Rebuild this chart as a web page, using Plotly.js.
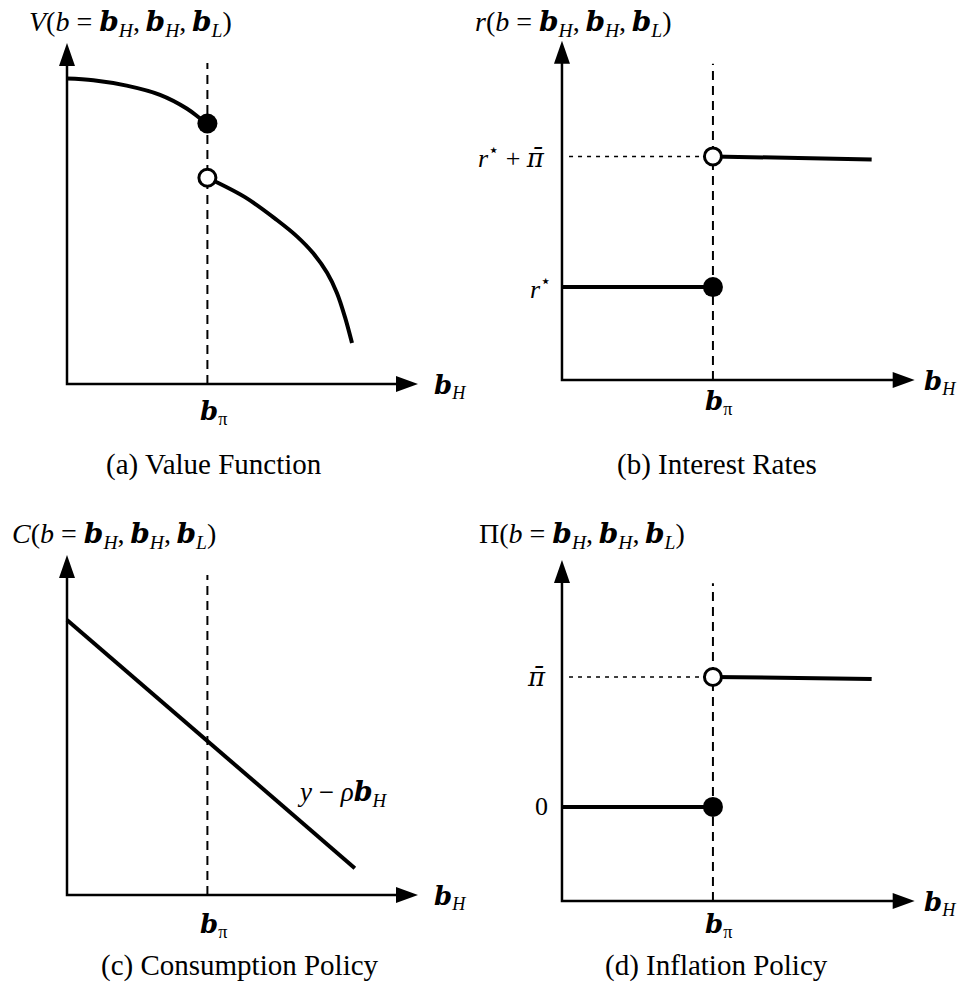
<!DOCTYPE html>
<html>
<head>
<meta charset="utf-8">
<script src="https://cdn.plot.ly/plotly-3.0.1.min.js"></script>
<style>
  html, body { margin: 0; padding: 0; background: #fff; }
  #chart { width: 957px; height: 984px; }
</style>
</head>
<body>
<div id="chart"></div>
<script>
// ---- data (axis units: origin = 0, arrow tip = 10) ----
const bPiLeft = 4.0;          // panels (a), (c)
const bPiRight = 4.28;        // panels (b), (d)
const guideTopLeft = 9.41;
const guideTopRight = 9.32;

// (a) value function, two branches
const valueHiX = [0, 0.75, 1.70, 2.65, 3.41, 3.79, 4.0];
const valueHiY = [8.96, 8.91, 8.75, 8.48, 8.08, 7.79, 7.64];
const valueLoX = [4.0, 5.07, 5.98, 6.55, 7.01, 7.41, 7.69, 7.92, 8.12];
const valueLoY = [6.05, 5.48, 4.81, 4.33, 3.84, 3.26, 2.67, 1.96, 1.20];

// (b) interest rates
const rateLowX = [0, 4.28];
const rateLowY = [2.74, 2.74];
const rateHighX = [4.28, 8.78];
const rateHighY = [6.59, 6.50];

// (c) consumption policy y - rho*b_H
const consX = [0, 8.2];
const consY = [8.09, 0.79];

// (d) inflation policy
const inflLowX = [0, 4.28];
const inflLowY = [2.76, 2.76];
const inflHighX = [4.28, 8.78];
const inflHighY = [6.57, 6.51];

const boldB = '<span style="font-family:DejaVu Serif"><b><i>b</i></b></span>';
const bH = boldB + "<sub><i>H</i></sub>";
const bL = boldB + "<sub><i>L</i></sub>";
const bPiTxt = boldB + "<sub>π</sub>";
const piBar = '<span style="font-family:DejaVu Serif"><i>π\u0304</i></span>';
const args = "(<i>b</i> = " + bH + ",\u2009" + bH + ",\u2009" + bL + ")";
const titles = ["<i>V</i>" + args, "<i>r</i>" + args, "<i>C</i>" + args, "Π" + args];
const captions = ["(a) Value Function", "(b) Interest Rates", "(c) Consumption Policy", "(d) Inflation Policy"];
const rateTicks = ["<i>r</i><sup>⋆</sup>", "<i>r</i><sup>⋆</sup> + " + piBar];
const inflTicks = ["0", piBar];
const consLabel = "<i>y</i> − <i>ρ</i>" + bH;

// ---- layout helpers ----
const W = 957, H = 984;
const LO = -0.6, HI = 11.2;
const FONT = "Liberation Serif, DejaVu Serif, serif";
const frames = [
  { x0: 67, x10: 418, y0: 384, y10: 43, piDrop: 28, bhGap: 14 },
  { x0: 562, x10: 915, y0: 380, y10: 40, piDrop: 22, bhGap: 7 },
  { x0: 67, x10: 418, y0: 895, y10: 555, piDrop: 30, bhGap: 14 },
  { x0: 562, x10: 915, y0: 901, y10: 560, piDrop: 24, bhGap: 7 },
];
const px = (x) => x / W;
const py = (y) => 1 - y / H;

const layout = {
  width: W, height: H,
  margin: { l: 0, r: 0, t: 0, b: 0 },
  paper_bgcolor: "#fff",
  plot_bgcolor: "rgba(0,0,0,0)",
  showlegend: false,
  font: { family: FONT, color: "#000", size: 22 },
  shapes: [],
  annotations: [],
};

frames.forEach((f, i) => {
  const n = i === 0 ? "" : String(i + 1);
  const ux = (f.x10 - f.x0) / 10, uy = (f.y0 - f.y10) / 10;
  layout["xaxis" + n] = {
    domain: [px(f.x0 + LO * ux), px(f.x0 + HI * ux)],
    range: [LO, HI], visible: false, fixedrange: true,
    anchor: "y" + n,
  };
  layout["yaxis" + n] = {
    domain: [py(f.y0 - LO * uy), py(f.y0 - HI * uy)],
    range: [LO, HI], visible: false, fixedrange: true,
    anchor: "x" + n,
  };
  const xr = "x" + n, yr = "y" + n;
  const bPi = i % 2 === 0 ? bPiLeft : bPiRight;
  const top = i % 2 === 0 ? guideTopLeft : guideTopRight;
  // axes with arrowheads
  layout.shapes.push(
    { type: "path", xref: xr, yref: yr, layer: "below", path: "M0,9.5L0,0L9.6,0",
      line: { color: "#000", width: 2.5 } },
    { type: "path", xref: xr, yref: yr, xsizemode: "pixel", ysizemode: "pixel",
      xanchor: 10, yanchor: 0, path: "M0,0L-22,8L-22,-8Z",
      fillcolor: "#000", line: { width: 0 } },
    { type: "path", xref: xr, yref: yr, xsizemode: "pixel", ysizemode: "pixel",
      xanchor: 0, yanchor: 10, path: "M0,0L-8,-23L8,-23Z",
      fillcolor: "#000", line: { width: 0 } },
    { type: "line", xref: xr, yref: yr, layer: "below", x0: bPi, x1: bPi, y0: 0, y1: top,
      line: { color: "#000", width: 2, dash: "9px,6px" } }
  );
  // axis labels
  layout.annotations.push(
    { xref: xr, yref: yr, x: 10, y: 0, xshift: f.bhGap, yshift: -2, xanchor: "left", yanchor: "middle",
      text: bH, showarrow: false, font: { size: 26 } },
    { xref: xr, yref: yr, x: bPi, y: 0, xshift: 6, yshift: -f.piDrop, xanchor: "center", yanchor: "middle",
      text: bPiTxt, showarrow: false, font: { size: 26 } }
  );
});

// titles and captions
const titlePos = [[27, 23], [473, 23], [10, 535], [477, 535]];
const capPos = [[214, 464], [717, 464], [240, 965], [716, 965]];
titles.forEach((t, i) => {
  layout.annotations.push({
    xref: "paper", yref: "paper", x: px(titlePos[i][0]), y: py(titlePos[i][1]),
    xanchor: "left", yanchor: "middle", text: t, showarrow: false, font: { size: 28 },
  });
  layout.annotations.push({
    xref: "paper", yref: "paper", x: px(capPos[i][0]), y: py(capPos[i][1]),
    xanchor: "center", yanchor: "middle", text: captions[i], showarrow: false, font: { size: 29 },
  });
});

// step-panel level labels and dotted guides
[[2, rateLowY, rateHighY, rateTicks, [9, 15]], [4, inflLowY, inflHighY, inflTicks, [12, 14]]]
  .forEach(([k, lowY, highY, ticks, gaps]) => {
    const xr = "x" + k, yr = "y" + k;
    layout.shapes.push({ type: "line", xref: xr, yref: yr, layer: "below",
      x0: 0.2, x1: bPiRight, y0: highY[0], y1: highY[0],
      line: { color: "#000", width: 1.5, dash: "4px,5px" } });
    layout.annotations.push(
      { xref: xr, yref: yr, x: 0, y: lowY[0], xshift: -gaps[0], xanchor: "right", yanchor: "middle",
        text: ticks[0], showarrow: false, font: { size: 26 } },
      { xref: xr, yref: yr, x: 0, y: highY[0], xshift: -gaps[1], xanchor: "right", yanchor: "middle",
        text: ticks[1], showarrow: false, font: { size: 26 } }
    );
  });

layout.annotations.push({ xref: "x3", yref: "y3", x: 6.5, y: 3.0, xanchor: "left", yanchor: "middle",
  text: consLabel, showarrow: false, font: { size: 27 } });

// ---- traces ----
const lineStyle = { color: "#000", width: 4 };
const filled = { color: "#000", size: 20 };
const hollow = { color: "#fff", size: 17, line: { color: "#000", width: 3 } };
const curve = (x, y, ax, shape) => ({ type: "scatter", mode: "lines", x, y,
  xaxis: "x" + ax, yaxis: "y" + ax, line: Object.assign({ shape: shape || "linear", smoothing: 1 }, lineStyle),
  hoverinfo: "skip" });
const dot = (x, y, ax, marker) => ({ type: "scatter", mode: "markers", x: [x], y: [y],
  xaxis: "x" + ax, yaxis: "y" + ax, marker, hoverinfo: "skip", cliponaxis: false });

const traces = [
  curve(valueHiX, valueHiY, "", "spline"),
  curve(valueLoX, valueLoY, "", "spline"),
  dot(valueHiX[valueHiX.length - 1], valueHiY[valueHiY.length - 1], "", filled),
  dot(valueLoX[0], valueLoY[0], "", hollow),

  curve(rateLowX, rateLowY, "2"),
  curve(rateHighX, rateHighY, "2"),
  dot(rateLowX[1], rateLowY[1], "2", filled),
  dot(rateHighX[0], rateHighY[0], "2", hollow),

  curve(consX, consY, "3"),

  curve(inflLowX, inflLowY, "4"),
  curve(inflHighX, inflHighY, "4"),
  dot(inflLowX[1], inflLowY[1], "4", filled),
  dot(inflHighX[0], inflHighY[0], "4", hollow),
];

Plotly.newPlot("chart", traces, layout, { staticPlot: true, displayModeBar: false });
</script>
</body>
</html>
